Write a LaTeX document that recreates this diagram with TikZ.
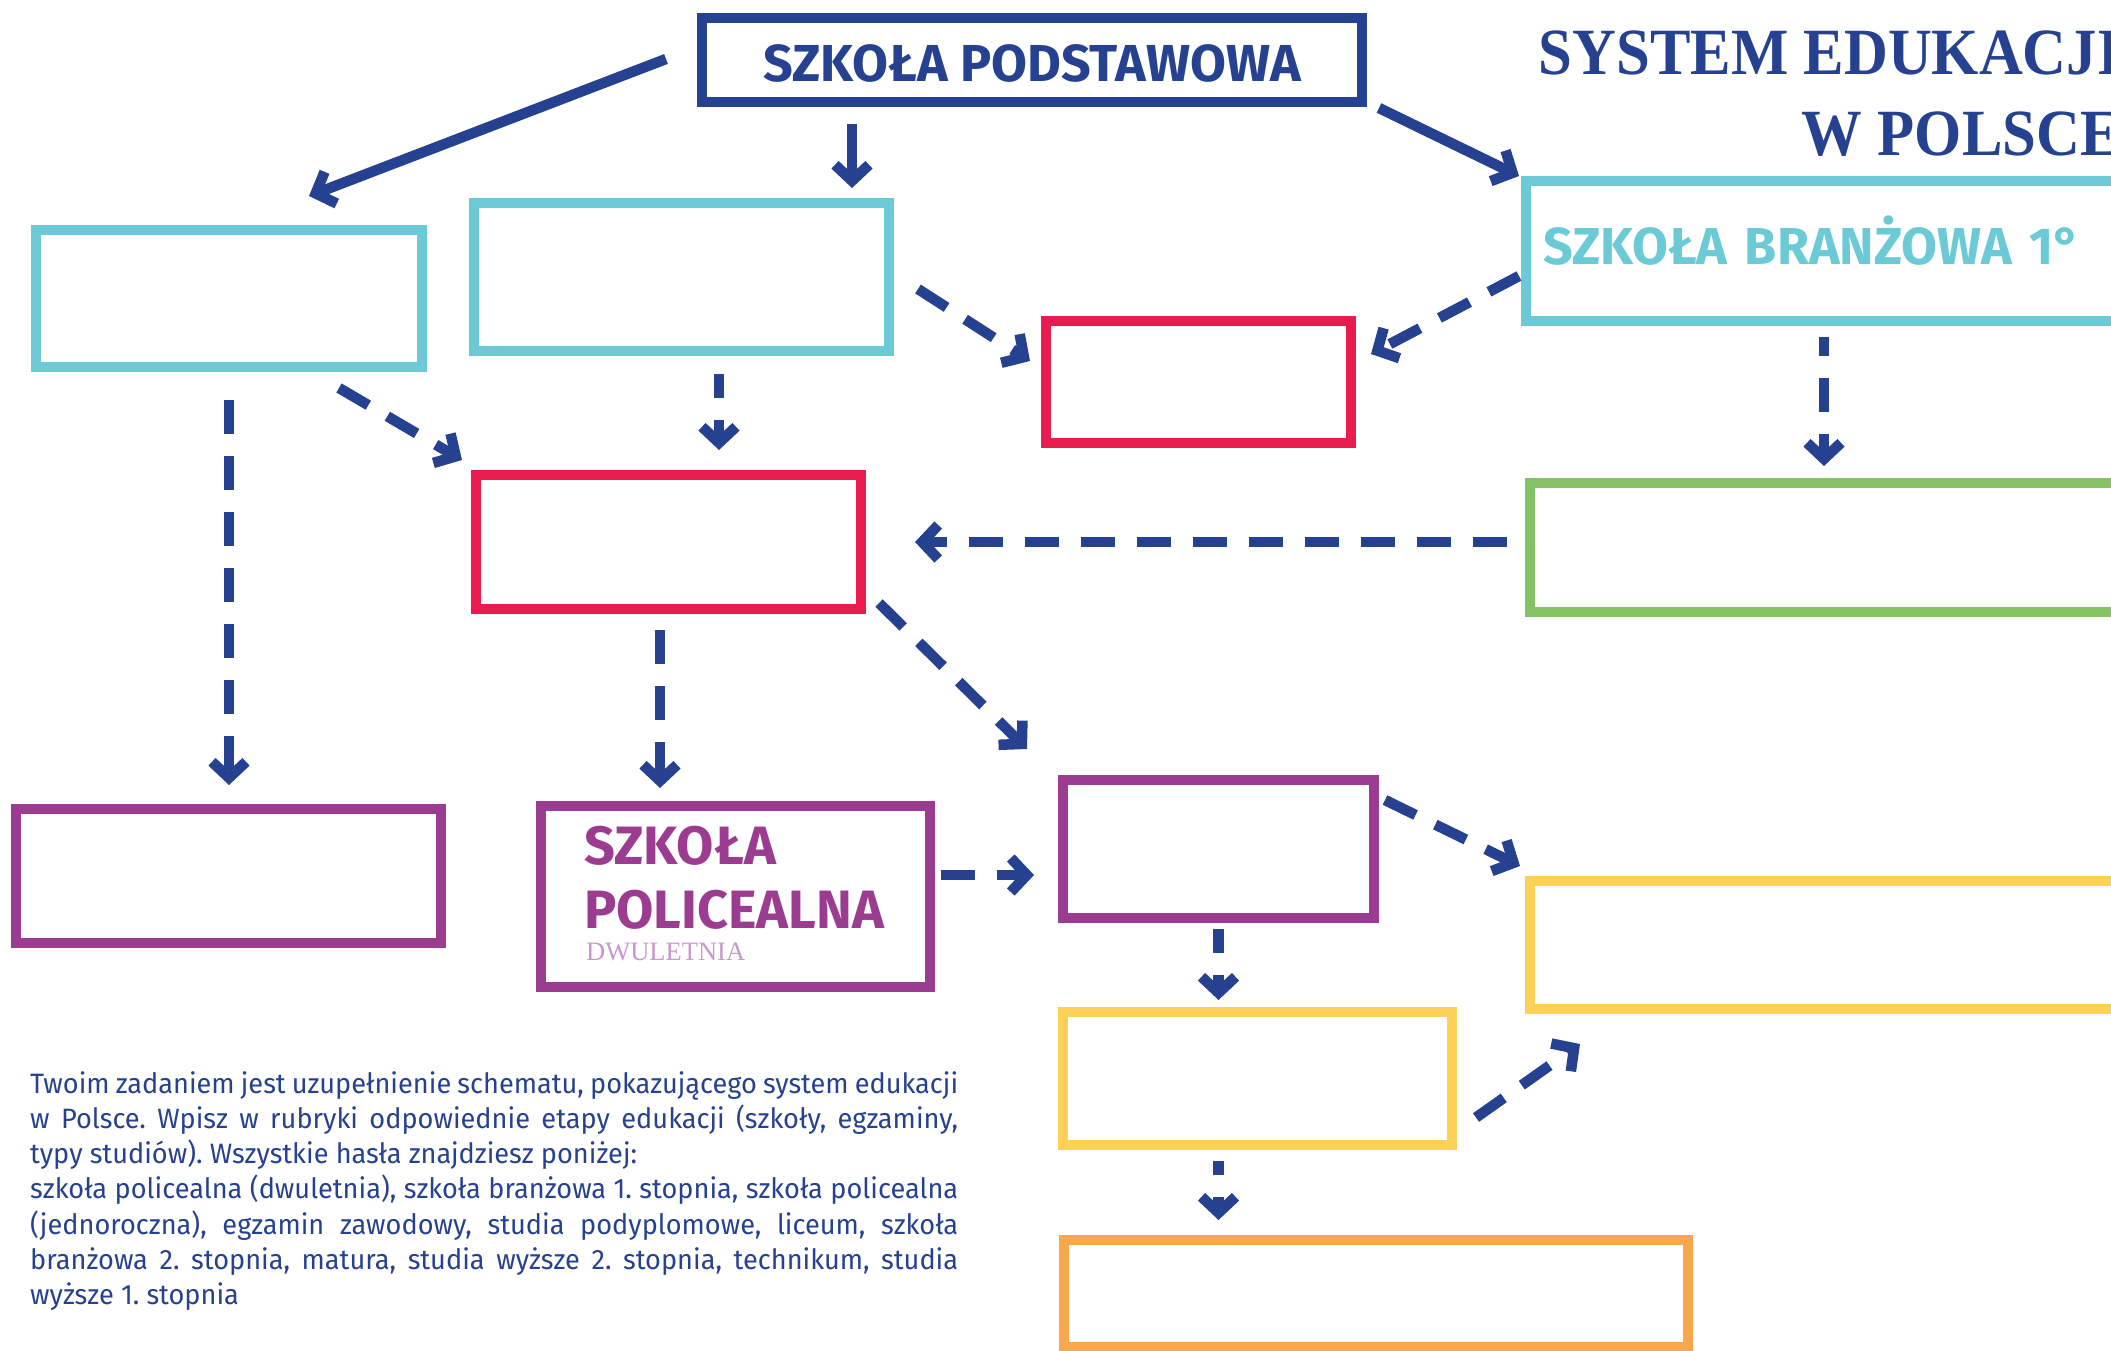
\documentclass[tikz,border=0pt]{standalone}
\usepackage{fontspec}
\setmainfont{Fira Sans}
\newfontfamily\titlefont{Liberation Serif}[FakeStretch=0.92]
\newfontfamily\dwufont{Liberation Serif}
\newfontfamily\notefont{Fira Sans}[FakeStretch=0.97]
\usetikzlibrary{arrows.meta}
\definecolor{navy}{RGB}{38,65,143}
\definecolor{boxcyan}{RGB}{107,202,213}
\definecolor{boxred}{RGB}{232,28,79}
\definecolor{boxgreen}{RGB}{132,194,101}
\definecolor{boxpurple}{RGB}{156,60,145}
\definecolor{boxyellow}{RGB}{253,209,88}
\definecolor{boxorange}{RGB}{250,166,75}
\definecolor{lilac}{RGB}{198,152,204}
\newcommand{\fullline}[1]{\makebox[928pt][s]{#1}}
\frenchspacing

\begin{document}
\begin{tikzpicture}[x=1pt, y=-1pt,
    slot/.style={draw=#1, line width=10pt, inner sep=0pt},
    caps/.style={font=\fontsize{52}{58}\selectfont\bfseries, inner sep=0pt},
    bigcaps/.style={font=\fontsize{54}{60}\selectfont\bfseries, inner sep=0pt},
    solidarr/.style={navy, line width=10.5pt, -{Straight Barb[length=16pt,width=34pt]}},
    dasharr/.style={solidarr, dash pattern=on 34pt off 22pt}]
    \useasboundingbox (0,0) rectangle (2111,1350);
    \clip (0,0) rectangle (2111,1350);
    \node[font=\titlefont\bfseries\fontsize{66}{81}\selectfont, text=navy, align=right, anchor=north east, inner sep=0pt] (title) at (2121,31) {SYSTEM EDUKACJI\\W POLSCE};
    \node[slot=navy, caps, text=navy, minimum width=660, minimum height=84, text height=42, text depth=0] (podst) at (1032,60) {SZKOŁA PODSTAWOWA};
    \node[slot=boxcyan, minimum width=386, minimum height=137] (left1) at (229,298.5) {};
    \node[slot=boxcyan, minimum width=415, minimum height=148] (mid1) at (681.5,277) {};
    \node[slot=boxred, minimum width=305, minimum height=122] (red1) at (1198.5,382) {};
    \node[slot=boxcyan, caps, text=boxcyan, text width=575, inner xsep=17, align=left, minimum height=140, text height=26, text depth=0] (branz) at (1830.5,251) {SZKOŁA BRANŻOWA 1°};
    \node[slot=boxred, minimum width=385, minimum height=134] (red2) at (668.5,542) {};
    \node[slot=boxgreen, minimum width=605, minimum height=129] (green1) at (1832.5,547.5) {};
    \node[slot=boxpurple, minimum width=425, minimum height=134] (purp1) at (228.5,876) {};
    \node[slot=boxpurple, minimum width=389, minimum height=181] (polic) at (735.5,896.5) {};
    \node[slot=boxpurple, minimum width=311, minimum height=138] (purp2) at (1218.5,849) {};
    \node[slot=boxyellow, minimum width=605, minimum height=128] (yel1) at (1832.5,945) {};
    \node[slot=boxyellow, minimum width=389, minimum height=133] (yel2) at (1257.5,1078.5) {};
    \node[slot=boxorange, minimum width=624, minimum height=107] (orange1) at (1376,1293.5) {};
    \node[bigcaps, text=boxpurple, anchor=base west] (policsz) at (584,864) {SZKOŁA};
    \node[bigcaps, text=boxpurple, anchor=base west] (policpol) at (584,928) {POLICEALNA};
    \node[font=\dwufont\fontsize{26.5}{30}\selectfont, text=lilac, anchor=base west, inner sep=0pt] (policdwu) at (586,960) {DWULETNIA};
    \node[font=\notefont\fontsize{28}{35.3}\selectfont, text=navy, align=left, anchor=north west, inner sep=0pt] (note) at (30,1071) {\fullline{Twoim zadaniem jest uzupełnienie schematu, pokazującego system edukacji}\\
        \fullline{w Polsce. Wpisz w rubryki odpowiednie etapy edukacji (szkoły, egzaminy,}\\
        typy studiów). Wszystkie hasła znajdziesz poniżej:\\
        \fullline{szkoła policealna (dwuletnia), szkoła branżowa 1. stopnia, szkoła policealna}\\
        \fullline{(jednoroczna), egzamin zawodowy, studia podyplomowe, liceum, szkoła}\\
        \fullline{branżowa 2. stopnia, matura, studia wyższe 2. stopnia, technikum, studia}\\
        wyższe 1. stopnia};
    \path ([shift={(-31,-1)}]podst.west) edge[solidarr] ([shift={(80,-29)}]left1.north);
    \path ([shift={(-180,17)}]podst.south) edge[solidarr] ([shift={(170.5,-10)}]mid1.north);
    \path ([shift={(12,1)}]podst.south east) edge[solidarr] ([shift={(-2,0)}]branz.north west);
    \path ([shift={(24,12)}]mid1.east) edge[dasharr] ([shift={(-11,-21)}]red1.west);
    \path ([shift={(-2,25)}]branz.west) edge[dasharr] ([shift={(15,-28)}]red1.east);
    \path ([shift={(110,16)}]left1.south) edge[dasharr] ([shift={(-9,-10)}]red2.north west);
    \path ([shift={(37.5,18)}]mid1.south) edge[dasharr, dash phase=10pt] ([shift={(50.5,-20)}]red2.north);
    \path ([shift={(0,28)}]left1.south) edge[dasharr] ([shift={(0.5,-19)}]purp1.north);
    \path ([shift={(-6.5,11)}]branz.south) edge[dasharr, dash phase=15pt] ([shift={(-8.5,-12)}]green1.north);
    \path ([shift={(-18,-5.5)}]green1.west) edge[dasharr] ([shift={(49,0)}]red2.east);
    \path ([shift={(-8.5,16)}]red2.south) edge[dasharr] ([shift={(-75.5,-13)}]polic.north);
    \path ([shift={(13,-11)}]red2.south east) edge[dasharr] ([shift={(-31,-26)}]purp2.north west);
    \path ([shift={(6,-21.5)}]polic.east) edge[dasharr] ([shift={(-24,26)}]purp2.west);
    \path ([shift={(6,25)}]purp2.north east) edge[dasharr] ([shift={(-5,-10)}]yel1.north west);
    \path ([shift={(0,6)}]purp2.south) edge[dasharr, dash phase=10pt] ([shift={(-39,-7)}]yel2.north);
    \path ([shift={(19,39)}]yel2.east) edge[dasharr] ([shift={(55,30)}]yel1.south west);
    \path ([shift={(-39,11)}]yel2.south) edge[dasharr, dash phase=20pt] ([shift={(-157.5,-15)}]orange1.north);
\end{tikzpicture}
\end{document}
